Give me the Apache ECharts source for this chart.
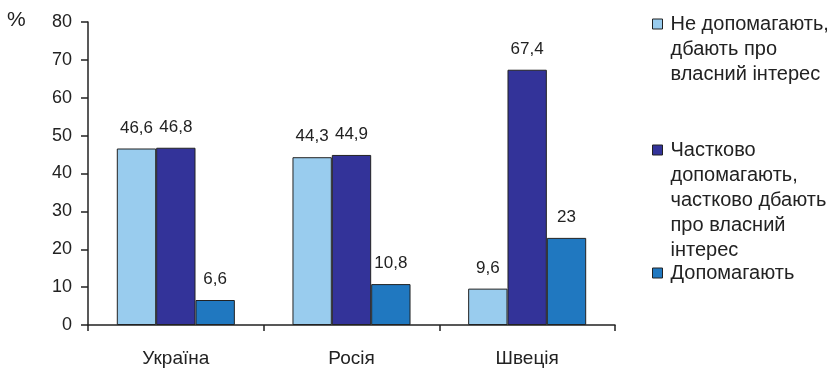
<!DOCTYPE html>
<html>
<head>
<meta charset="utf-8">
<script src="https://cdn.jsdelivr.net/npm/echarts@6/dist/echarts.min.js"></script>
<style>
  html, body { margin: 0; padding: 0; background: #fff; }
  #chart { width: 835px; height: 368px; }
</style>
</head>
<body>
<div id="chart"></div>
<script>
// Categories and series values
const countries = ['Україна', 'Росія', 'Швеція'];
const seriesNames = [
  'Не допомагають,\nдбають про\nвласний інтерес',
  'Частково\nдопомагають,\nчастково дбають\nпро власний\nінтерес',
  'Допомагають'
];
const notHelping = [46.6, 44.3, 9.6];
const partlyHelping = [46.8, 44.9, 67.4];
const helping = [6.6, 10.8, 23];
const yTicks = { min: 0, max: 80, step: 10 };

const colors = ['#99CCEE', '#333399', '#2078C0'];
const FONT = '"Liberation Sans", Arial, Helvetica, sans-serif';
const LH = 25;

function fmt(v) { return String(v).replace('.', ','); }

function barSeries(i, data) {
  return {
    name: seriesNames[i],
    type: 'bar',
    data: data,
    barWidth: '22.4%',
    barGap: '0%',
    itemStyle: { color: colors[i], borderColor: '#222', borderWidth: 1 },
    label: {
      show: true,
      position: 'top',
      distance: 12,
      fontFamily: FONT,
      fontSize: 17,
      color: '#222',
      formatter: p => fmt(p.value)
    }
  };
}

// One legend per entry; blank lines above the label keep the marker
// level with the first line of a multi-line entry
function legendFor(i, firstLineCenter) {
  const n = seriesNames[i].split('\n').length;
  const h = (2 * n - 1) * LH;
  return {
    data: [seriesNames[i]],
    orient: 'vertical',
    left: 652,
    top: firstLineCenter - h / 2,
    padding: 0,
    itemWidth: 10,
    itemHeight: 10,
    itemGap: 0,
    icon: 'rect',
    itemStyle: { borderColor: '#222', borderWidth: 1 },
    selectedMode: false,
    formatter: name => '\n'.repeat(n - 1) + name,
    textStyle: {
      fontFamily: FONT,
      fontSize: 20,
      lineHeight: LH,
      color: '#222',
      padding: [0, 0, 0, 3]
    }
  };
}

const chart = echarts.init(document.getElementById('chart'), null, { renderer: 'canvas' });
chart.setOption({
  animation: false,
  backgroundColor: '#fff',
  title: {
    text: '%',
    left: 7,
    top: 10,
    padding: 0,
    textStyle: { fontFamily: FONT, fontSize: 21, fontWeight: 'normal', color: '#222' }
  },
  grid: { left: 88, right: 220, top: 22, bottom: 42, containLabel: false },
  legend: [legendFor(0, 24), legendFor(1, 150), legendFor(2, 273)],
  xAxis: {
    type: 'category',
    data: countries,
    axisLine: { lineStyle: { color: '#222', width: 1.5 } },
    axisTick: { show: true, length: 6, inside: false, lineStyle: { color: '#222', width: 1.5 } },
    axisLabel: { margin: 24, fontFamily: FONT, fontSize: 19, color: '#222' }
  },
  yAxis: {
    type: 'value',
    min: yTicks.min,
    max: yTicks.max,
    interval: yTicks.step,
    axisLine: { show: true, lineStyle: { color: '#222', width: 1.5 } },
    axisTick: { show: true, length: 7, lineStyle: { color: '#222', width: 1.5 } },
    splitLine: { show: false },
    axisLabel: { margin: 16, fontFamily: FONT, fontSize: 18, color: '#222' }
  },
  series: [
    barSeries(0, notHelping),
    barSeries(1, partlyHelping),
    barSeries(2, helping)
  ]
});
</script>
</body>
</html>
